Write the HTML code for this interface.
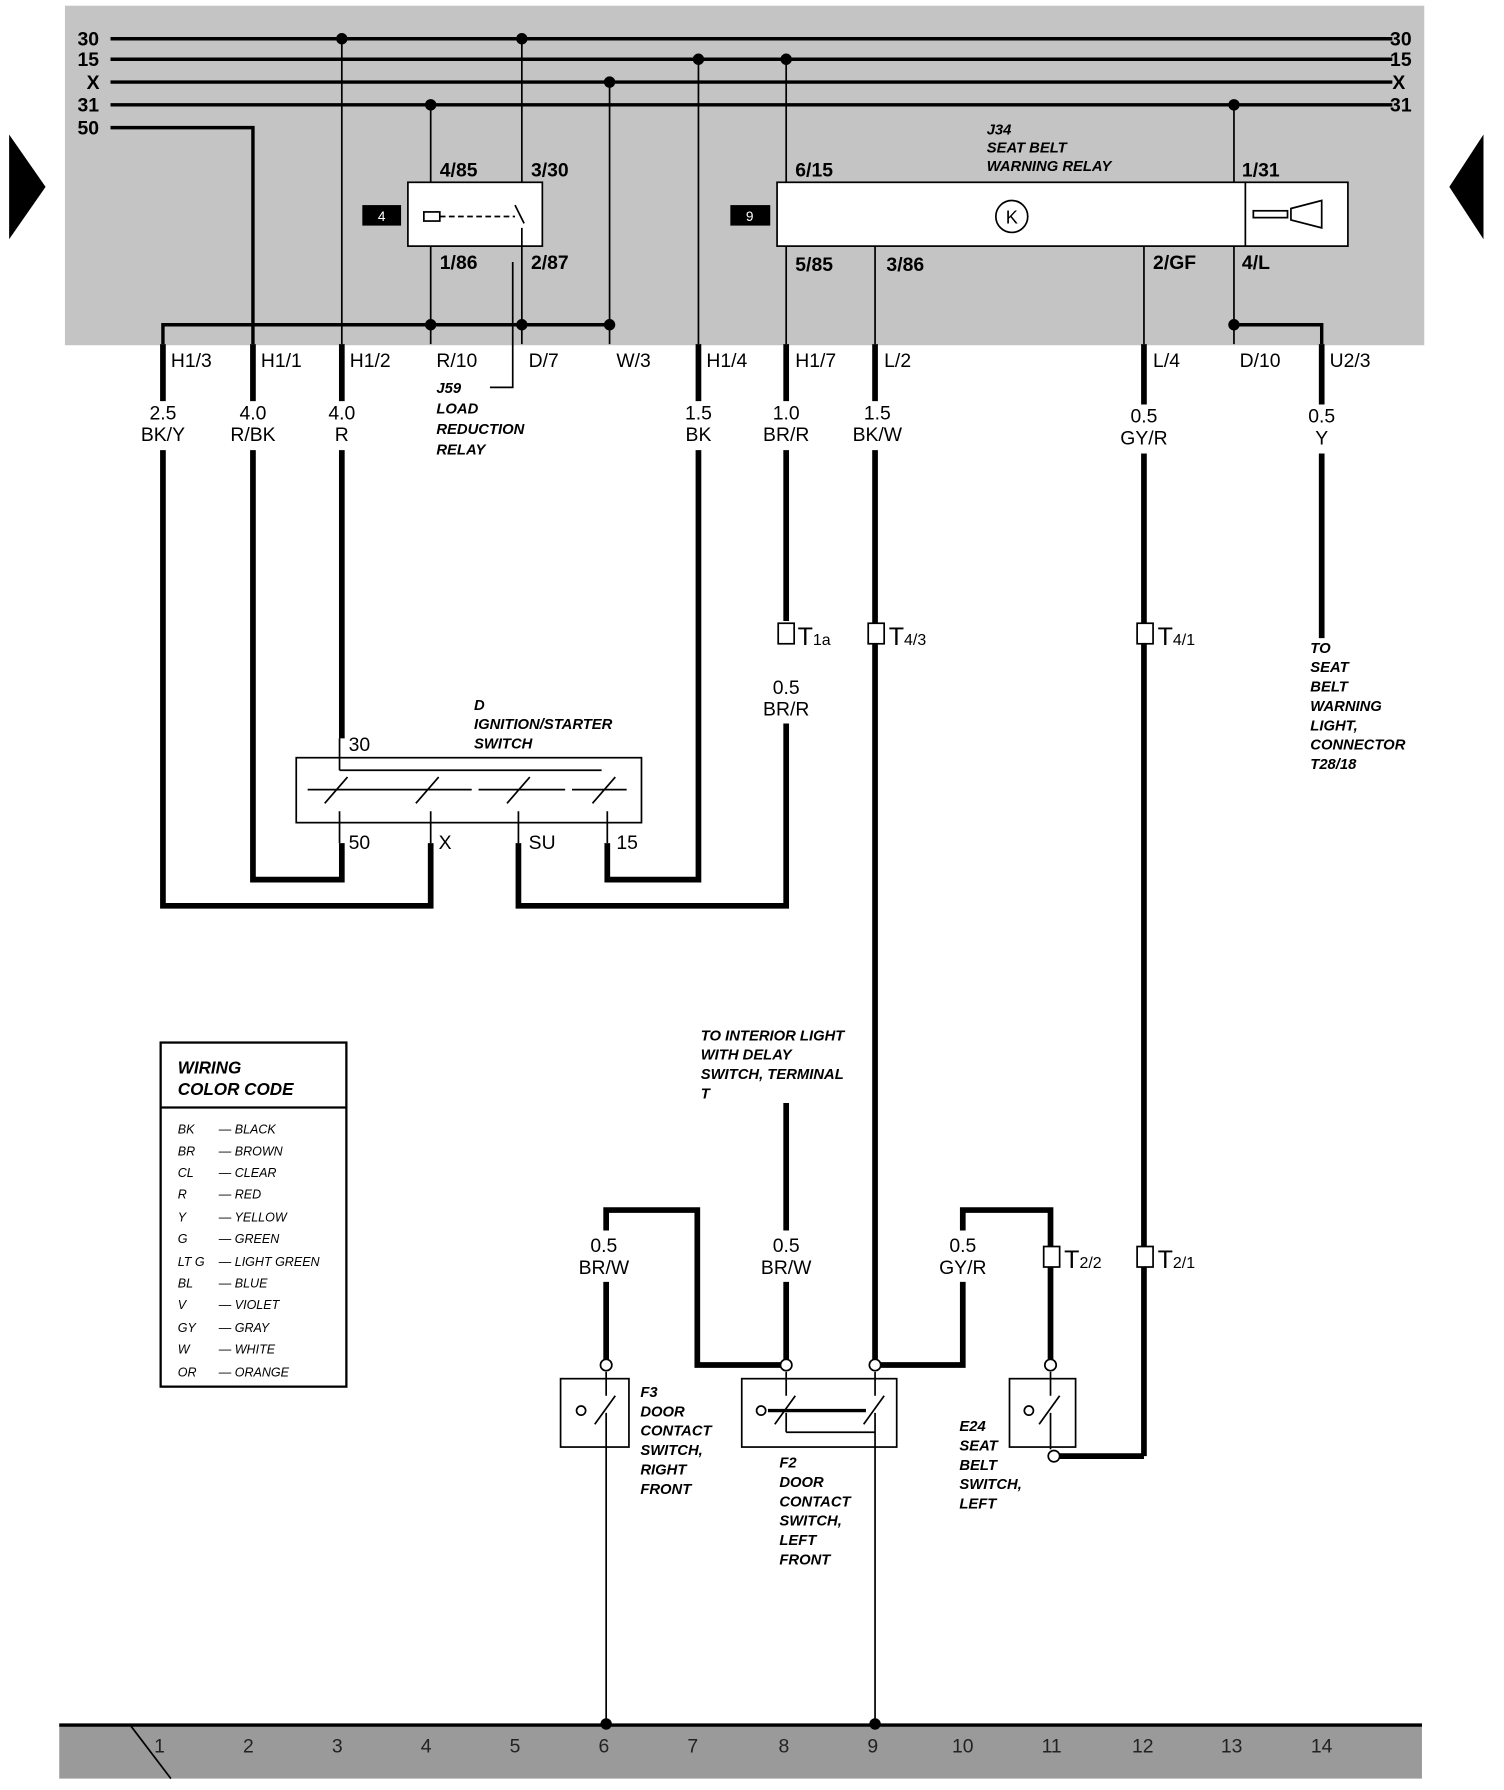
<!DOCTYPE html>
<html><head><meta charset="utf-8"><style>html,body{margin:0;padding:0;background:#fff}svg{display:block}</style></head>
<body>
<svg width="1504" height="1790" viewBox="0 0 1320 1571" preserveAspectRatio="none" xmlns="http://www.w3.org/2000/svg" font-family="Liberation Sans, sans-serif">
<rect width="1320" height="1571" fill="#fff"/>
<rect x="57" y="5" width="1193" height="298" fill="#c4c4c4"/>
<rect x="52" y="1513" width="1196" height="48" fill="#9a9a9a"/>
<line x1="52" y1="1514" x2="1248" y2="1514" stroke="#000" stroke-width="3"/>
<polygon points="8,118 40,164 8,210" fill="#000"/>
<polygon points="1302,118 1272,164 1302,210" fill="#000"/>
<g stroke="#000" stroke-width="3" fill="none">
<line x1="97" y1="34" x2="1222" y2="34"/><line x1="97" y1="52" x2="1222" y2="52"/>
<line x1="97" y1="72" x2="1222" y2="72"/><line x1="97" y1="92" x2="1222" y2="92"/>
<polyline points="97,112 222,112 222,302"/>
<polyline points="143,302 143,285 535,285"/>
<polyline points="1083,285 1160,285 1160,302"/>
</g>
<g stroke="#000" stroke-width="1.5" fill="none">
<line x1="300" y1="34" x2="300" y2="302"/>
<line x1="378" y1="92" x2="378" y2="160"/><line x1="378" y1="216" x2="378" y2="302"/>
<line x1="458" y1="34" x2="458" y2="160"/><line x1="458" y1="200" x2="458" y2="302"/>
<line x1="535" y1="72" x2="535" y2="302"/>
<line x1="613" y1="52" x2="613" y2="302"/>
<line x1="690" y1="52" x2="690" y2="160"/><line x1="690" y1="216" x2="690" y2="302"/>
<line x1="768" y1="216" x2="768" y2="302"/>
<line x1="1004" y1="216" x2="1004" y2="302"/>
<line x1="1083" y1="92" x2="1083" y2="160"/><line x1="1083" y1="216" x2="1083" y2="302"/>
<polyline points="450,230 450,340 430,340"/>
<rect x="358" y="160" width="118" height="56" fill="#fff"/>
<rect x="682" y="160" width="501" height="56" fill="#fff"/>
<line x1="1093" y1="160" x2="1093" y2="216"/>
<circle cx="888" cy="190" r="14"/>
<rect x="372" y="186" width="14" height="8"/>
<line x1="386" y1="190" x2="452" y2="190" stroke-dasharray="5,3"/>
<polyline points="452,180 460,196"/><line x1="458" y1="200" x2="458" y2="216"/>
<rect x="1100" y="185" width="30" height="6"/><polygon points="1133,183 1160,176 1160,200 1133,193"/>
</g>
<rect x="318" y="180" width="34" height="18" fill="#000"/><text x="335" y="194" fill="#fff" font-size="12" text-anchor="middle">4</text>
<rect x="641" y="180" width="35" height="18" fill="#000"/><text x="658" y="194" fill="#fff" font-size="12" text-anchor="middle">9</text>
<text x="888" y="196" font-size="16" text-anchor="middle">K</text>
<g fill="#000">
<circle cx="300" cy="34" r="5"/><circle cx="458" cy="34" r="5"/><circle cx="613" cy="52" r="5"/><circle cx="690" cy="52" r="5"/>
<circle cx="535" cy="72" r="5"/><circle cx="378" cy="92" r="5"/><circle cx="1083" cy="92" r="5"/>
<circle cx="378" cy="285" r="5"/><circle cx="458" cy="285" r="5"/><circle cx="535" cy="285" r="5"/><circle cx="1083" cy="285" r="5"/>
<circle cx="532" cy="1513" r="5"/><circle cx="768" cy="1513" r="5"/>
</g>
<g font-weight="bold" font-size="17">
<text x="68" y="40">30</text><text x="68" y="58">15</text><text x="76" y="78">X</text><text x="68" y="98">31</text><text x="68" y="118">50</text>
<text x="1220" y="40">30</text><text x="1220" y="58">15</text><text x="1222" y="78">X</text><text x="1220" y="98">31</text>
</g>
<g font-size="17" font-weight="bold">
<text x="386" y="155">4/85</text><text x="466" y="155">3/30</text><text x="386" y="236">1/86</text><text x="466" y="236">2/87</text>
<text x="698" y="155">6/15</text><text x="1090" y="155">1/31</text>
<text x="698" y="238">5/85</text><text x="778" y="238">3/86</text><text x="1012" y="236">2/GF</text><text x="1090" y="236">4/L</text>
</g>
<g font-size="13" font-weight="bold" font-style="italic">
<text x="866" y="118">J34</text><text x="866" y="134">SEAT BELT</text><text x="866" y="150">WARNING RELAY</text>
<text x="383" y="345">J59</text><text x="383" y="363">LOAD</text><text x="383" y="381">REDUCTION</text><text x="383" y="399">RELAY</text>
<text x="416" y="623">D</text><text x="416" y="640">IGNITION/STARTER</text><text x="416" y="657">SWITCH</text>
<text x="1150" y="573">TO</text><text x="1150" y="590">SEAT</text><text x="1150" y="607">BELT</text><text x="1150" y="624">WARNING</text><text x="1150" y="641">LIGHT,</text><text x="1150" y="658">CONNECTOR</text><text x="1150" y="675">T28/18</text>
<text x="615" y="913">TO INTERIOR LIGHT</text><text x="615" y="930">WITH DELAY</text><text x="615" y="947">SWITCH, TERMINAL</text><text x="615" y="964">T</text>
<text x="562" y="1226">F3</text><text x="562" y="1243">DOOR</text><text x="562" y="1260">CONTACT</text><text x="562" y="1277">SWITCH,</text><text x="562" y="1294">RIGHT</text><text x="562" y="1311">FRONT</text>
<text x="684" y="1288">F2</text><text x="684" y="1305">DOOR</text><text x="684" y="1322">CONTACT</text><text x="684" y="1339">SWITCH,</text><text x="684" y="1356">LEFT</text><text x="684" y="1373">FRONT</text>
<text x="842" y="1256">E24</text><text x="842" y="1273">SEAT</text><text x="842" y="1290">BELT</text><text x="842" y="1307">SWITCH,</text><text x="842" y="1324">LEFT</text>
</g>
<g font-size="17">
<text x="150" y="322">H1/3</text><text x="229" y="322">H1/1</text><text x="307" y="322">H1/2</text><text x="383" y="322">R/10</text>
<text x="464" y="322">D/7</text><text x="541" y="322">W/3</text><text x="620" y="322">H1/4</text><text x="698" y="322">H1/7</text><text x="776" y="322">L/2</text>
<text x="1012" y="322">L/4</text><text x="1088" y="322">D/10</text><text x="1167" y="322">U2/3</text>
</g>
<g font-size="17" text-anchor="middle">
<text x="143" y="368">2.5</text><text x="143" y="387">BK/Y</text>
<text x="222" y="368">4.0</text><text x="222" y="387">R/BK</text>
<text x="300" y="368">4.0</text><text x="300" y="387">R</text>
<text x="613" y="368">1.5</text><text x="613" y="387">BK</text>
<text x="690" y="368">1.0</text><text x="690" y="387">BR/R</text>
<text x="770" y="368">1.5</text><text x="770" y="387">BK/W</text>
<text x="1004" y="371">0.5</text><text x="1004" y="390">GY/R</text>
<text x="1160" y="371">0.5</text><text x="1160" y="390">Y</text>
<text x="690" y="609">0.5</text><text x="690" y="628">BR/R</text>
<text x="530" y="1099">0.5</text><text x="530" y="1118">BR/W</text>
<text x="690" y="1099">0.5</text><text x="690" y="1118">BR/W</text>
<text x="845" y="1099">0.5</text><text x="845" y="1118">GY/R</text>
</g>
<g stroke="#000" stroke-width="5" fill="none">
<line x1="143" y1="302" x2="143" y2="352"/><polyline points="143,395 143,795 378,795 378,740"/>
<line x1="222" y1="302" x2="222" y2="352"/><polyline points="222,395 222,772 300,772 300,740"/>
<line x1="300" y1="302" x2="300" y2="352"/><line x1="300" y1="395" x2="300" y2="648"/>
<line x1="613" y1="302" x2="613" y2="352"/><polyline points="613,395 613,772 533,772 533,740"/>
<line x1="690" y1="302" x2="690" y2="352"/><line x1="690" y1="395" x2="690" y2="545"/>
<polyline points="690,635 690,795 455,795 455,740"/>
<line x1="768" y1="302" x2="768" y2="352"/><line x1="768" y1="395" x2="768" y2="1198"/>
<line x1="1004" y1="302" x2="1004" y2="355"/><line x1="1004" y1="398" x2="1004" y2="1278"/><line x1="1004" y1="1278" x2="930" y2="1278"/>
<line x1="1160" y1="302" x2="1160" y2="355"/><line x1="1160" y1="398" x2="1160" y2="560"/>
<line x1="690" y1="968" x2="690" y2="1080"/><line x1="690" y1="1125" x2="690" y2="1198"/>
<polyline points="532,1080 532,1062 612,1062 612,1198 690,1198"/><line x1="532" y1="1125" x2="532" y2="1198"/>
<polyline points="768,1198 845,1198 845,1125"/><polyline points="845,1080 845,1062 922,1062 922,1198"/>
</g>
<g fill="#fff" stroke="#000" stroke-width="1.5">
<rect x="683" y="547" width="14" height="18"/><rect x="762" y="547" width="14" height="18"/><rect x="998" y="547" width="14" height="18"/>
<rect x="916" y="1094" width="14" height="18"/><rect x="998" y="1094" width="14" height="18"/>
</g>
<g font-size="22"><text x="700" y="566">T<tspan font-size="14">1a</tspan></text><text x="780" y="566">T<tspan font-size="14">4/3</tspan></text>
<text x="1016" y="566">T<tspan font-size="14">4/1</tspan></text><text x="934" y="1113">T<tspan font-size="14">2/2</tspan></text><text x="1016" y="1113">T<tspan font-size="14">2/1</tspan></text></g>
<g stroke="#000" stroke-width="1.5" fill="none">
<rect x="260" y="665" width="303" height="57"/>
<line x1="298" y1="676" x2="528" y2="676"/>
<line x1="270" y1="693" x2="414" y2="693"/><line x1="420" y1="693" x2="496" y2="693"/><line x1="502" y1="693" x2="550" y2="693"/>
<line x1="285" y1="705" x2="305" y2="682"/><line x1="365" y1="705" x2="385" y2="682"/><line x1="445" y1="705" x2="465" y2="682"/><line x1="520" y1="705" x2="540" y2="682"/>
<line x1="298" y1="648" x2="298" y2="676"/><line x1="298" y1="712" x2="298" y2="740"/><line x1="378" y1="712" x2="378" y2="740"/><line x1="455" y1="712" x2="455" y2="740"/><line x1="533" y1="712" x2="533" y2="740"/>
<rect x="141" y="915" width="163" height="302" stroke-width="2"/><line x1="141" y1="972" x2="304" y2="972" stroke-width="2"/>
<rect x="492" y="1210" width="60" height="60"/><rect x="651" y="1210" width="136" height="60"/><rect x="886" y="1210" width="58" height="60"/>
<line x1="532" y1="1204" x2="532" y2="1225"/><line x1="522" y1="1250" x2="540" y2="1225"/><line x1="532" y1="1240" x2="532" y2="1513"/>
<line x1="690" y1="1204" x2="690" y2="1225"/><line x1="680" y1="1250" x2="698" y2="1225"/><line x1="690" y1="1240" x2="690" y2="1257"/>
<line x1="768" y1="1204" x2="768" y2="1225"/><line x1="758" y1="1250" x2="776" y2="1225"/><line x1="768" y1="1240" x2="768" y2="1513"/>
<line x1="674" y1="1238" x2="760" y2="1238" stroke-width="3"/><line x1="690" y1="1257" x2="768" y2="1257"/>
<line x1="922" y1="1204" x2="922" y2="1225"/><line x1="912" y1="1250" x2="930" y2="1225"/><line x1="922" y1="1240" x2="922" y2="1272"/>
</g>
<g fill="#fff" stroke="#000" stroke-width="1.5">
<circle cx="532" cy="1198" r="5"/><circle cx="690" cy="1198" r="5"/><circle cx="768" cy="1198" r="5"/><circle cx="922" cy="1198" r="5"/><circle cx="925" cy="1278" r="5"/>
<circle cx="510" cy="1238" r="4"/><circle cx="668" cy="1238" r="4"/><circle cx="903" cy="1238" r="4"/>
</g>
<g font-size="17"><text x="306" y="659">30</text><text x="306" y="745">50</text><text x="385" y="745">X</text><text x="464" y="745">SU</text><text x="541" y="745">15</text></g>
<g font-size="15" font-weight="bold" font-style="italic"><text x="156" y="942">WIRING</text><text x="156" y="961">COLOR CODE</text></g>
<g font-size="11" font-style="italic">
<text x="156" y="995">BK</text><text x="192" y="995">— BLACK</text>
<text x="156" y="1014">BR</text><text x="192" y="1014">— BROWN</text>
<text x="156" y="1033">CL</text><text x="192" y="1033">— CLEAR</text>
<text x="156" y="1052">R</text><text x="192" y="1052">— RED</text>
<text x="156" y="1072">Y</text><text x="192" y="1072">— YELLOW</text>
<text x="156" y="1091">G</text><text x="192" y="1091">— GREEN</text>
<text x="156" y="1111">LT G</text><text x="192" y="1111">— LIGHT GREEN</text>
<text x="156" y="1130">BL</text><text x="192" y="1130">— BLUE</text>
<text x="156" y="1149">V</text><text x="192" y="1149">— VIOLET</text>
<text x="156" y="1169">GY</text><text x="192" y="1169">— GRAY</text>
<text x="156" y="1188">W</text><text x="192" y="1188">— WHITE</text>
<text x="156" y="1208">OR</text><text x="192" y="1208">— ORANGE</text>
</g>
<g font-size="17" text-anchor="middle" fill="#222">
<text x="140" y="1538">1</text><text x="218" y="1538">2</text><text x="296" y="1538">3</text><text x="374" y="1538">4</text><text x="452" y="1538">5</text><text x="530" y="1538">6</text><text x="608" y="1538">7</text><text x="688" y="1538">8</text><text x="766" y="1538">9</text><text x="845" y="1538">10</text><text x="923" y="1538">11</text><text x="1003" y="1538">12</text><text x="1081" y="1538">13</text><text x="1160" y="1538">14</text>
</g>
<line x1="115" y1="1515" x2="150" y2="1561" stroke="#000" stroke-width="1.5"/>
</svg>
</body></html>
